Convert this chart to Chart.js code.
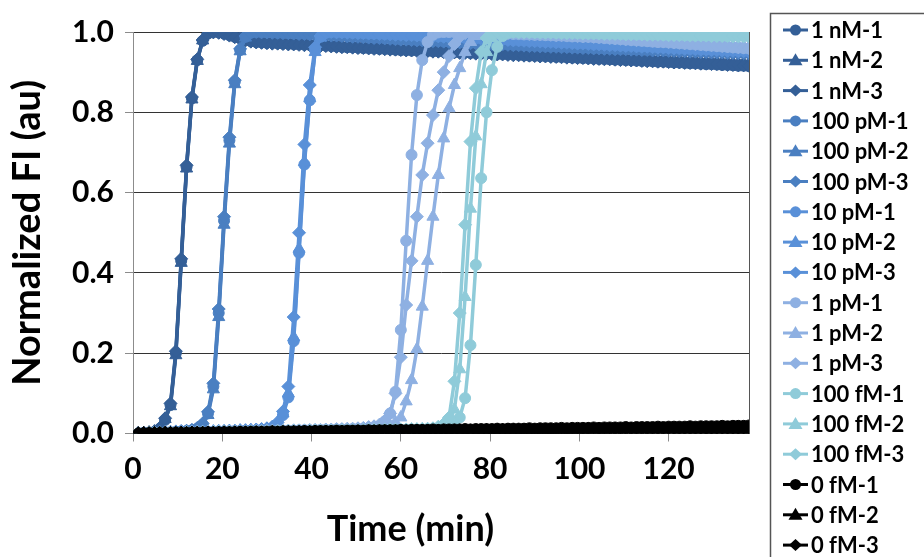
<!DOCTYPE html>
<html>
<head>
<meta charset="utf-8">
<script src="https://cdn.jsdelivr.net/npm/chart.js@4.4.1/dist/chart.umd.min.js"></script>
<style>
  html, body { margin: 0; padding: 0; background: #fff; }
  #wrap { width: 924px; height: 557px; position: relative; }
</style>
</head>
<body>
<div id="wrap"><canvas id="chart"></canvas></div>
<script>
// sampling times (min)
const times = [1.2, 2.4, 3.6, 4.8, 6, 7.2, 8.4, 9.6, 10.8, 12,
  13.2, 14.4, 15.6, 16.8, 18, 19.2, 20.4, 21.6, 22.8, 24,
  25.2, 26.4, 27.6, 28.8, 30, 31.2, 32.4, 33.6, 34.8, 36,
  37.2, 38.4, 39.6, 40.8, 42, 43.2, 44.4, 45.6, 46.8, 48,
  49.2, 50.4, 51.6, 52.8, 54, 55.2, 56.4, 57.6, 58.8, 60,
  61.2, 62.4, 63.6, 64.8, 66, 67.2, 68.4, 69.6, 70.8, 72,
  73.2, 74.4, 75.6, 76.8, 78, 79.2, 80.4, 81.6, 82.8, 84,
  85.2, 86.4, 87.6, 88.8, 90, 91.2, 92.4, 93.6, 94.8, 96,
  97.2, 98.4, 99.6, 100.8, 102, 103.2, 104.4, 105.6, 106.8, 108,
  109.2, 110.4, 111.6, 112.8, 114, 115.2, 116.4, 117.6, 118.8, 120,
  121.2, 122.4, 123.6, 124.8, 126, 127.2, 128.4, 129.6, 130.8, 132,
  133.2, 134.4, 135.6, 136.8, 138];

// 1 nM
const nM1_r1 = [0, 0.001, 0.002, 0.004, 0.012,
  0.034, 0.071, 0.2, 0.43, 0.664, 0.835, 0.93, 0.978, 0.996, 1, 0.999, 0.996, 0.992, 0.988, 0.984, 0.98, 0.977, 0.975,
  0.974, 0.973, 0.973, 0.972, 0.971, 0.971, 0.97, 0.969, 0.969, 0.968, 0.967, 0.967, 0.966, 0.965, 0.964, 0.963,
  0.962, 0.962, 0.961, 0.96, 0.96, 0.959, 0.958, 0.958, 0.957, 0.956, 0.955,
  0.955, 0.954, 0.954, 0.953, 0.953, 0.952, 0.952, 0.951, 0.95, 0.95, 0.949, 0.949, 0.948, 0.948, 0.947, 0.947, 0.946, 0.945, 0.945, 0.944, 0.944, 0.943, 0.942,
  0.941, 0.941, 0.94, 0.94, 0.939, 0.938, 0.938, 0.937, 0.936, 0.936, 0.935, 0.935, 0.934, 0.933, 0.933, 0.932, 0.931, 0.931, 0.93, 0.93, 0.929, 0.928, 0.928, 0.927, 0.926, 0.926, 0.925,
  0.924, 0.924, 0.923, 0.922, 0.922, 0.921, 0.92, 0.92, 0.919, 0.918, 0.918, 0.917, 0.916, 0.916, 0.915];
const nM1_r2 = [0, 0, 0.002, 0.005, 0.013,
  0.036, 0.068, 0.195, 0.425, 0.66, 0.832, 0.928, 0.979, 0.997, 1, 1, 0.998, 0.994, 0.99, 0.986, 0.983, 0.98, 0.978,
  0.977, 0.976, 0.976, 0.975, 0.974, 0.974, 0.973, 0.972, 0.972, 0.971, 0.97, 0.97, 0.969, 0.968, 0.968, 0.967,
  0.966, 0.966, 0.965, 0.965, 0.964, 0.963, 0.963, 0.962, 0.962, 0.961, 0.96,
  0.96, 0.959, 0.959, 0.958, 0.957, 0.957, 0.956, 0.956, 0.955, 0.955, 0.954, 0.953, 0.953, 0.952, 0.952, 0.951, 0.951, 0.95, 0.949, 0.949, 0.948, 0.948, 0.947,
  0.947, 0.946, 0.945, 0.945, 0.944, 0.944, 0.943, 0.942, 0.942, 0.941, 0.941, 0.94, 0.939, 0.939, 0.938, 0.938, 0.937, 0.936, 0.936, 0.935, 0.935, 0.934, 0.933, 0.933, 0.932, 0.932, 0.931,
  0.93, 0.93, 0.929, 0.929, 0.928, 0.927, 0.927, 0.926, 0.926, 0.925, 0.924, 0.924, 0.923, 0.923, 0.922];
const nM1_r3 = [0.001, 0.001, 0.003, 0.005, 0.014,
  0.038, 0.075, 0.205, 0.435, 0.668, 0.838, 0.932, 0.98, 0.996, 0.999, 0.998, 0.995, 0.991, 0.987, 0.983, 0.979, 0.976, 0.974,
  0.973, 0.972, 0.971, 0.971, 0.97, 0.969, 0.969, 0.968, 0.967, 0.967, 0.966, 0.965, 0.965, 0.964, 0.963, 0.962,
  0.962, 0.961, 0.96, 0.96, 0.959, 0.958, 0.958, 0.957, 0.956, 0.956, 0.955,
  0.954, 0.954, 0.953, 0.952, 0.952, 0.951, 0.951, 0.95, 0.949, 0.949, 0.948, 0.948, 0.947, 0.946, 0.946, 0.945, 0.945, 0.944, 0.944, 0.943, 0.942, 0.942, 0.941,
  0.941, 0.94, 0.939, 0.939, 0.938, 0.938, 0.937, 0.936, 0.936, 0.935, 0.935, 0.934, 0.933, 0.933, 0.932, 0.932, 0.931, 0.93, 0.93, 0.929, 0.929, 0.928, 0.927, 0.927, 0.926, 0.926, 0.925,
  0.924, 0.924, 0.923, 0.923, 0.922, 0.921, 0.921, 0.92, 0.92, 0.919, 0.918, 0.918, 0.917, 0.917, 0.916];

// 100 pM
const pM100_r1 = [0, 0.001, 0.001, 0.002, 0.002, 0.003, 0.003, 0.004, 0.005, 0.006,
  0.008, 0.012, 0.022, 0.05, 0.117, 0.3, 0.53, 0.73, 0.876, 0.955, 0.988, 0.998, 1, 1, 0.999, 0.999, 0.998, 0.998, 0.997, 0.997,
  0.996, 0.996, 0.995, 0.994, 0.994, 0.993, 0.992, 0.992, 0.991, 0.99, 0.989, 0.989, 0.988, 0.987, 0.986, 0.986, 0.985, 0.984, 0.983, 0.982,
  0.982, 0.981, 0.98, 0.98, 0.979, 0.978, 0.978, 0.977, 0.976, 0.976, 0.975, 0.974, 0.973, 0.973, 0.972, 0.971, 0.971, 0.97, 0.97, 0.969, 0.968, 0.968, 0.967, 0.966, 0.966,
  0.965, 0.965, 0.964, 0.964, 0.963, 0.963, 0.962, 0.962, 0.961, 0.961, 0.96, 0.96, 0.959, 0.959, 0.958, 0.958, 0.958, 0.957, 0.957, 0.956, 0.956, 0.956, 0.955, 0.955, 0.955,
  0.954, 0.954, 0.953, 0.953, 0.952, 0.952, 0.951, 0.951, 0.95, 0.95, 0.95, 0.949, 0.949, 0.948, 0.948];
const pM100_r2 = [0, 0, 0.001, 0.001, 0.002, 0.002, 0.003, 0.004, 0.004, 0.005,
  0.007, 0.011, 0.02, 0.046, 0.11, 0.29, 0.52, 0.722, 0.87, 0.952, 0.986, 0.997, 1, 1, 1, 0.999, 0.999, 0.998, 0.998, 0.997,
  0.997, 0.996, 0.996, 0.995, 0.994, 0.994, 0.993, 0.993, 0.992, 0.991, 0.991, 0.99, 0.989, 0.989, 0.988, 0.987, 0.987, 0.986, 0.985, 0.985,
  0.984, 0.983, 0.983, 0.982, 0.981, 0.981, 0.98, 0.979, 0.979, 0.978, 0.977, 0.977, 0.976, 0.975, 0.975, 0.974, 0.974, 0.973, 0.972, 0.972, 0.971, 0.971, 0.97, 0.969, 0.969,
  0.968, 0.968, 0.967, 0.967, 0.966, 0.966, 0.965, 0.965, 0.964, 0.964, 0.963, 0.963, 0.962, 0.962, 0.961, 0.961, 0.961, 0.96, 0.96, 0.959, 0.959, 0.958, 0.958, 0.958, 0.957,
  0.957, 0.956, 0.956, 0.955, 0.955, 0.955, 0.954, 0.954, 0.953, 0.953, 0.952, 0.952, 0.952, 0.951, 0.951];
const pM100_r3 = [0.001, 0.001, 0.002, 0.002, 0.003, 0.003, 0.004, 0.005, 0.006, 0.007,
  0.009, 0.014, 0.025, 0.054, 0.125, 0.31, 0.54, 0.738, 0.88, 0.958, 0.99, 0.999, 1, 0.999, 0.999, 0.998, 0.998, 0.997, 0.997, 0.996,
  0.995, 0.995, 0.994, 0.993, 0.993, 0.992, 0.991, 0.991, 0.99, 0.989, 0.988, 0.988, 0.987, 0.986, 0.985, 0.985, 0.984, 0.983, 0.982, 0.981,
  0.981, 0.98, 0.979, 0.979, 0.978, 0.977, 0.977, 0.976, 0.975, 0.975, 0.974, 0.973, 0.972, 0.972, 0.971, 0.97, 0.97, 0.969, 0.969, 0.968, 0.967, 0.967, 0.966, 0.965, 0.965,
  0.964, 0.964, 0.963, 0.963, 0.962, 0.962, 0.961, 0.961, 0.96, 0.96, 0.959, 0.959, 0.958, 0.958, 0.957, 0.957, 0.957, 0.956, 0.956, 0.955, 0.955, 0.954, 0.954, 0.954, 0.953,
  0.953, 0.952, 0.952, 0.951, 0.951, 0.95, 0.95, 0.949, 0.949, 0.949, 0.948, 0.948, 0.947, 0.947, 0.946];

// 10 pM
const pM10_r1 = [0, 0, 0.001, 0.001, 0.001, 0.002, 0.002, 0.002, 0.003, 0.003, 0.003, 0.003, 0.004, 0.004, 0.004, 0.005, 0.005, 0.005, 0.006, 0.006, 0.007, 0.007, 0.008, 0.009, 0.01,
  0.013, 0.022, 0.046, 0.09, 0.23, 0.45, 0.67, 0.83, 0.955, 0.988, 0.998, 1, 1, 0.999, 0.999,
  0.998, 0.998, 0.997, 0.997, 0.996, 0.996, 0.995, 0.995, 0.994, 0.994, 0.993, 0.993, 0.992, 0.991, 0.991, 0.99, 0.99, 0.989, 0.988, 0.988,
  0.987, 0.986, 0.986, 0.985, 0.984, 0.984, 0.983, 0.982, 0.982, 0.981, 0.98, 0.98, 0.979, 0.978, 0.978, 0.977, 0.976, 0.976, 0.975, 0.974, 0.974, 0.973, 0.972, 0.972, 0.971,
  0.97, 0.97, 0.969, 0.968, 0.968, 0.967, 0.966, 0.966, 0.965, 0.964, 0.964, 0.963, 0.962, 0.962, 0.961, 0.96, 0.96, 0.959, 0.958, 0.958, 0.957, 0.957, 0.956, 0.956, 0.955, 0.955, 0.954, 0.953, 0.953, 0.952];
const pM10_r2 = [0, 0.001, 0.001, 0.001, 0.002, 0.002, 0.002, 0.003, 0.003, 0.003, 0.004, 0.004, 0.004, 0.004, 0.005, 0.005, 0.005, 0.006, 0.006, 0.007, 0.007, 0.008, 0.008, 0.009, 0.011,
  0.014, 0.024, 0.05, 0.1, 0.24, 0.46, 0.676, 0.835, 0.95, 0.986, 0.997, 1, 1, 1, 0.999,
  0.999, 0.998, 0.998, 0.997, 0.997, 0.996, 0.996, 0.995, 0.995, 0.994, 0.994, 0.993, 0.993, 0.992, 0.992, 0.991, 0.99, 0.99, 0.989, 0.989,
  0.988, 0.988, 0.987, 0.986, 0.986, 0.985, 0.985, 0.984, 0.983, 0.983, 0.982, 0.982, 0.981, 0.98, 0.98, 0.979, 0.978, 0.978, 0.977, 0.977, 0.976, 0.975, 0.975, 0.974, 0.973,
  0.973, 0.972, 0.971, 0.971, 0.97, 0.97, 0.969, 0.968, 0.968, 0.967, 0.966, 0.966, 0.965, 0.965, 0.964, 0.963, 0.963, 0.962, 0.962, 0.961, 0.96, 0.96, 0.959, 0.959, 0.958, 0.957, 0.957, 0.956, 0.956, 0.955];
const pM10_r3 = [0.001, 0.001, 0.001, 0.002, 0.002, 0.002, 0.003, 0.003, 0.003, 0.004, 0.004, 0.004, 0.005, 0.005, 0.005, 0.006, 0.006, 0.007, 0.007, 0.008, 0.008, 0.009, 0.01, 0.011, 0.013,
  0.017, 0.028, 0.055, 0.117, 0.29, 0.5, 0.72, 0.868, 0.962, 0.99, 0.999, 1, 0.999, 0.999, 0.998,
  0.998, 0.997, 0.997, 0.996, 0.996, 0.995, 0.995, 0.994, 0.993, 0.993, 0.992, 0.992, 0.991, 0.99, 0.99, 0.989, 0.989, 0.988, 0.987, 0.987,
  0.986, 0.985, 0.985, 0.984, 0.983, 0.983, 0.982, 0.981, 0.981, 0.98, 0.979, 0.979, 0.978, 0.977, 0.977, 0.976, 0.975, 0.975, 0.974, 0.973, 0.973, 0.972, 0.971, 0.971, 0.97,
  0.969, 0.969, 0.968, 0.967, 0.967, 0.966, 0.965, 0.965, 0.964, 0.963, 0.963, 0.962, 0.961, 0.961, 0.96, 0.959, 0.959, 0.958, 0.958, 0.957, 0.956, 0.956, 0.955, 0.955, 0.954, 0.953, 0.953, 0.952, 0.952, 0.951];

// 1 pM
const pM1_r1 = [0, 0, 0.001, 0.001, 0.001, 0.001, 0.002, 0.002, 0.002, 0.002, 0.003, 0.003, 0.003, 0.003, 0.004, 0.004, 0.004, 0.004, 0.005, 0.005, 0.005, 0.005, 0.006, 0.006, 0.006, 0.006, 0.007, 0.007, 0.007, 0.007, 0.008, 0.008, 0.008, 0.008, 0.009, 0.009, 0.009, 0.01, 0.01, 0.01, 0.011, 0.011, 0.012, 0.013, 0.014,
  0.018, 0.03, 0.05, 0.104, 0.258, 0.48, 0.694, 0.843, 0.93, 0.975, 0.993, 0.999, 1, 1, 1,
  0.999, 0.999, 0.999, 0.998, 0.998, 0.998, 0.997, 0.997, 0.996, 0.996, 0.995, 0.995, 0.994, 0.994, 0.993, 0.993, 0.992, 0.992, 0.991, 0.991, 0.99, 0.989, 0.989, 0.988, 0.988,
  0.987, 0.986, 0.985, 0.984, 0.983, 0.982, 0.981, 0.98, 0.979, 0.978, 0.977, 0.976, 0.975, 0.975, 0.974, 0.973, 0.972, 0.971, 0.97, 0.969, 0.968, 0.967, 0.966, 0.965, 0.964, 0.963, 0.962, 0.961, 0.96, 0.959];
const pM1_r2 = [0, 0, 0, 0.001, 0.001, 0.001, 0.001, 0.001, 0.002, 0.002, 0.002, 0.002, 0.002, 0.003, 0.003, 0.003, 0.003, 0.003, 0.004, 0.004, 0.004, 0.004, 0.004, 0.005, 0.005, 0.005, 0.005, 0.005, 0.006, 0.006, 0.006, 0.006, 0.006, 0.007, 0.007, 0.007, 0.007, 0.008, 0.008, 0.008, 0.008, 0.009, 0.009, 0.009, 0.01, 0.01, 0.011,
  0.02, 0.028, 0.04, 0.08, 0.133, 0.21, 0.316, 0.43, 0.54, 0.644, 0.735, 0.81, 0.868, 0.91, 0.95, 0.975, 0.99, 0.997, 1, 1, 1, 0.999, 0.999,
  0.999, 0.998, 0.998, 0.997, 0.997, 0.996, 0.996, 0.995, 0.995, 0.994, 0.993, 0.993, 0.992, 0.991, 0.991,
  0.99, 0.989, 0.988, 0.987, 0.986, 0.985, 0.984, 0.983, 0.983, 0.982, 0.981, 0.98, 0.979, 0.978, 0.977, 0.976, 0.975, 0.974, 0.973, 0.972, 0.971, 0.97, 0.969, 0.968, 0.967, 0.966, 0.965, 0.964, 0.963, 0.962];
const pM1_r3 = [0, 0.001, 0.001, 0.001, 0.001, 0.002, 0.002, 0.002, 0.002, 0.003, 0.003, 0.003, 0.003, 0.004, 0.004, 0.004, 0.004, 0.005, 0.005, 0.005, 0.005, 0.006, 0.006, 0.006, 0.006, 0.007, 0.007, 0.007, 0.007, 0.008, 0.008, 0.008, 0.009, 0.009, 0.009, 0.01, 0.01, 0.011, 0.011, 0.012, 0.012, 0.013, 0.014, 0.016, 0.018,
  0.022, 0.032, 0.05, 0.1, 0.19, 0.32, 0.43, 0.54, 0.644, 0.723, 0.793, 0.855, 0.9, 0.94, 0.97, 0.988, 0.997, 1, 1, 0.999,
  0.999, 0.999, 0.998, 0.998, 0.997, 0.997, 0.996, 0.996, 0.995, 0.995, 0.994, 0.994, 0.993, 0.992, 0.992, 0.991, 0.991, 0.99, 0.989, 0.989,
  0.988, 0.987, 0.986, 0.985, 0.984, 0.983, 0.982, 0.981, 0.98, 0.98, 0.979, 0.978, 0.977, 0.976, 0.975, 0.974, 0.973, 0.972, 0.971, 0.97, 0.969, 0.968, 0.967, 0.966, 0.965, 0.964, 0.963, 0.962, 0.961, 0.96];

// 100 fM
const fM100_r1 = [0, 0, 0, 0.001, 0.001, 0.001, 0.001, 0.001, 0.001, 0.002, 0.002, 0.002, 0.002, 0.002, 0.002, 0.003, 0.003, 0.003, 0.003, 0.003, 0.003, 0.004, 0.004, 0.004, 0.004, 0.004, 0.004, 0.005, 0.005, 0.005, 0.005, 0.005, 0.005, 0.006, 0.006, 0.006, 0.006, 0.006, 0.007, 0.007, 0.007, 0.007, 0.007, 0.008, 0.008, 0.008, 0.008, 0.009, 0.009, 0.009, 0.009, 0.01, 0.01, 0.01, 0.011, 0.011, 0.012, 0.012,
  0.015, 0.022, 0.04, 0.088, 0.22, 0.42, 0.636, 0.8, 0.905, 0.963, 0.99, 0.998, 1, 1, 1, 1, 0.999,
  0.999, 0.999, 0.999, 0.998, 0.998, 0.998, 0.998, 0.997, 0.997, 0.997, 0.997, 0.996, 0.996, 0.996, 0.996, 0.995, 0.995, 0.995, 0.995, 0.994, 0.994, 0.994, 0.994, 0.993, 0.993, 0.993, 0.993, 0.992, 0.992, 0.992, 0.992, 0.991, 0.991, 0.991, 0.991, 0.99, 0.99, 0.99, 0.99, 0.989];
const fM100_r2 = [0, 0, 0, 0.001, 0.001, 0.001, 0.001, 0.001, 0.001, 0.002, 0.002, 0.002, 0.002, 0.002, 0.002, 0.003, 0.003, 0.003, 0.003, 0.003, 0.003, 0.004, 0.004, 0.004, 0.004, 0.004, 0.004, 0.005, 0.005, 0.005, 0.005, 0.005, 0.005, 0.006, 0.006, 0.006, 0.006, 0.006, 0.007, 0.007, 0.007, 0.007, 0.007, 0.008, 0.008, 0.008, 0.008, 0.009, 0.009, 0.009, 0.009, 0.01, 0.01, 0.01, 0.011, 0.011, 0.013,
  0.018, 0.03, 0.06, 0.16, 0.34, 0.56, 0.74, 0.87, 0.95, 0.985, 0.998, 1, 1, 1, 1, 0.999, 0.999, 0.999,
  0.999, 0.998, 0.998, 0.998, 0.998, 0.997, 0.997, 0.997, 0.997, 0.996, 0.996, 0.996, 0.996, 0.995, 0.995, 0.995, 0.995, 0.994, 0.994, 0.994, 0.994, 0.993, 0.993, 0.993, 0.993, 0.992, 0.992, 0.992, 0.992, 0.991, 0.991, 0.991, 0.991, 0.99, 0.99, 0.99, 0.99, 0.989, 0.989, 0.989];
const fM100_r3 = [0, 0, 0.001, 0.001, 0.001, 0.001, 0.001, 0.001, 0.002, 0.002, 0.002, 0.002, 0.002, 0.002, 0.003, 0.003, 0.003, 0.003, 0.003, 0.003, 0.004, 0.004, 0.004, 0.004, 0.004, 0.004, 0.005, 0.005, 0.005, 0.005, 0.005, 0.005, 0.006, 0.006, 0.006, 0.006, 0.006, 0.007, 0.007, 0.007, 0.007, 0.007, 0.008, 0.008, 0.008, 0.008, 0.009, 0.009, 0.009, 0.009, 0.01, 0.01, 0.01, 0.011, 0.011, 0.013,
  0.017, 0.024, 0.04, 0.13, 0.3, 0.52, 0.727, 0.86, 0.95, 0.985, 0.998, 1, 1, 1, 1, 0.999, 0.999, 0.999, 0.999,
  0.998, 0.998, 0.998, 0.998, 0.997, 0.997, 0.997, 0.997, 0.996, 0.996, 0.996, 0.996, 0.995, 0.995, 0.995, 0.995, 0.994, 0.994, 0.994, 0.994, 0.993, 0.993, 0.993, 0.993, 0.992, 0.992, 0.992, 0.992, 0.991, 0.991, 0.991, 0.991, 0.99, 0.99, 0.99, 0.99, 0.989, 0.989, 0.989, 0.989];

// 0 fM (no target)
const fM0_r1 = [0, 0, 0.001, 0, 0.001, 0.001, 0.001, 0.002, 0.001, 0.002, 0.002, 0.002, 0.002, 0.003, 0.002, 0.003, 0.003, 0.003, 0.003, 0.004,
  0.003, 0.004, 0.004, 0.004, 0.004, 0.005, 0.004, 0.005, 0.005, 0.005, 0.005, 0.006, 0.005, 0.006, 0.006, 0.006, 0.006, 0.007, 0.006, 0.007,
  0.007, 0.007, 0.007, 0.008, 0.007, 0.008, 0.008, 0.008, 0.008, 0.009, 0.008, 0.009, 0.009, 0.009, 0.009, 0.01, 0.009, 0.01, 0.01, 0.01,
  0.01, 0.011, 0.01, 0.011, 0.011, 0.011, 0.011, 0.012, 0.011, 0.012, 0.012, 0.012, 0.012, 0.013, 0.012, 0.013, 0.013, 0.013, 0.013, 0.014,
  0.013, 0.014, 0.014, 0.014, 0.014, 0.015, 0.014, 0.015, 0.015, 0.015, 0.015, 0.016, 0.015, 0.016, 0.016, 0.016, 0.016, 0.017, 0.016, 0.017,
  0.017, 0.017, 0.017, 0.018, 0.017, 0.018, 0.018, 0.018, 0.018, 0.019, 0.018, 0.019, 0.019, 0.019, 0.02];
const fM0_r2 = [0, 0, 0, 0, 0, 0.001, 0, 0, 0.001, 0, 0.001, 0.001, 0, 0.001, 0.001, 0.001, 0.001, 0.001, 0.001, 0.001,
  0.001, 0.001, 0.002, 0.001, 0.001, 0.002, 0.001, 0.002, 0.002, 0.002, 0.002, 0.001, 0.002, 0.002, 0.002, 0.002, 0.002, 0.003, 0.002, 0.002,
  0.002, 0.003, 0.002, 0.003, 0.003, 0.002, 0.003, 0.003, 0.003, 0.003, 0.003, 0.003, 0.003, 0.004, 0.003, 0.003, 0.003, 0.004, 0.003, 0.004,
  0.004, 0.003, 0.004, 0.004, 0.004, 0.004, 0.004, 0.004, 0.004, 0.005, 0.004, 0.004, 0.004, 0.005, 0.004, 0.005, 0.005, 0.004, 0.005, 0.005,
  0.005, 0.005, 0.005, 0.005, 0.005, 0.006, 0.005, 0.005, 0.005, 0.006, 0.005, 0.006, 0.006, 0.005, 0.006, 0.006, 0.006, 0.006, 0.006, 0.006,
  0.006, 0.007, 0.006, 0.006, 0.007, 0.006, 0.007, 0.007, 0.007, 0.006, 0.007, 0.007, 0.007, 0.007, 0.008];
const fM0_r3 = [0, 0.001, 0, 0.001, 0.001, 0.001, 0.001, 0.001, 0.002, 0.001, 0.002, 0.002, 0.002, 0.002, 0.002, 0.002, 0.003, 0.002, 0.003, 0.003,
  0.003, 0.003, 0.003, 0.003, 0.003, 0.004, 0.003, 0.004, 0.004, 0.004, 0.004, 0.004, 0.004, 0.005, 0.004, 0.005, 0.005, 0.005, 0.005, 0.005,
  0.005, 0.006, 0.005, 0.006, 0.006, 0.006, 0.006, 0.006, 0.006, 0.007, 0.006, 0.007, 0.007, 0.007, 0.007, 0.007, 0.007, 0.008, 0.007, 0.008,
  0.008, 0.008, 0.008, 0.008, 0.008, 0.009, 0.008, 0.009, 0.009, 0.009, 0.009, 0.009, 0.009, 0.01, 0.009, 0.01, 0.01, 0.01, 0.01, 0.01,
  0.01, 0.011, 0.01, 0.011, 0.011, 0.011, 0.011, 0.011, 0.011, 0.012, 0.011, 0.012, 0.012, 0.012, 0.012, 0.012, 0.012, 0.013, 0.012, 0.013,
  0.013, 0.013, 0.013, 0.013, 0.013, 0.014, 0.013, 0.014, 0.014, 0.014, 0.014, 0.014, 0.014, 0.015, 0.015];

const seriesNames = ['1 nM-1', '1 nM-2', '1 nM-3', '100 pM-1', '100 pM-2', '100 pM-3',
  '10 pM-1', '10 pM-2', '10 pM-3', '1 pM-1', '1 pM-2', '1 pM-3',
  '100 fM-1', '100 fM-2', '100 fM-3', '0 fM-1', '0 fM-2', '0 fM-3'];
const seriesValues = [nM1_r1, nM1_r2, nM1_r3, pM100_r1, pM100_r2, pM100_r3,
  pM10_r1, pM10_r2, pM10_r3, pM1_r1, pM1_r2, pM1_r3,
  fM100_r1, fM100_r2, fM100_r3, fM0_r1, fM0_r2, fM0_r3];
const xTicks = [0, 20, 40, 60, 80, 100, 120];
const yTicks = [0, 0.2, 0.4, 0.6, 0.8, 1.0];

const groupColors = ['#345f97', '#4a7fc1', '#5990d8', '#8eb0e2', '#8fcbd9', '#000000'];
const markers = ['circle', 'triangle', 'rectRot'];
const markerRadius = { circle: 5.5, triangle: 7, rectRot: 6.5 };

seriesValues.forEach((v, i) => {
  if (v.length !== times.length) console.error(seriesNames[i] + ' has ' + v.length + ' values');
});

const datasets = seriesValues.map((vals, i) => {
  const color = groupColors[Math.floor(i / 3)];
  const shape = markers[i % 3];
  return {
    label: seriesNames[i],
    data: times.map((t, j) => ({ x: t, y: vals[j] })),
    borderColor: color,
    backgroundColor: color,
    borderWidth: 3.5,
    pointStyle: shape,
    pointRadius: markerRadius[shape],
    pointBorderWidth: 1,
    pointBackgroundColor: color,
    pointBorderColor: color,
    tension: 0,
    order: -i  // later series on top, like the original
  };
});

function legendMarker(ctx, shape, x, y) {
  ctx.beginPath();
  if (shape === 'circle') {
    ctx.arc(x, y, 5.5, 0, Math.PI * 2);
  } else if (shape === 'triangle') {
    ctx.moveTo(x, y - 7);
    ctx.lineTo(x + 7, y + 5);
    ctx.lineTo(x - 7, y + 5);
    ctx.closePath();
  } else {
    ctx.moveTo(x, y - 6);
    ctx.lineTo(x + 6.5, y);
    ctx.lineTo(x, y + 6);
    ctx.lineTo(x - 6.5, y);
    ctx.closePath();
  }
  ctx.fill();
}

// boxed legend at the right, cut by the picture edge
const boxLegend = {
  id: 'boxLegend',
  afterDraw(chart) {
    const ctx = chart.ctx;
    ctx.save();
    ctx.strokeStyle = '#555';
    ctx.lineWidth = 1.5;
    ctx.strokeRect(770.5, 13.5, 180, 580);
    ctx.font = 'bold 22px Lato';
    ctx.textBaseline = 'middle';
    ctx.textAlign = 'left';
    chart.data.datasets.forEach((ds, i) => {
      const y = 30 + i * 30.3;
      ctx.strokeStyle = ds.borderColor;
      ctx.fillStyle = ds.borderColor;
      ctx.lineWidth = 3;
      ctx.beginPath();
      ctx.moveTo(783, y);
      ctx.lineTo(808, y);
      ctx.stroke();
      legendMarker(ctx, ds.pointStyle, 795.5, y);
      ctx.fillStyle = '#000';
      ctx.fillText(ds.label, 811, y + 1);
    });
    ctx.restore();
  }
};

const boldFont = (size) => ({ family: 'Lato', weight: 'bold', size: size });

new Chart(document.getElementById('chart'), {
  type: 'line',
  data: { datasets },
  plugins: [boxLegend],
  options: {
    responsive: true,
    maintainAspectRatio: false,
    animation: false,
    devicePixelRatio: 1,
    layout: { padding: { top: 32, right: 175, bottom: 0, left: 0 } },
    plugins: {
      legend: { display: false },
      tooltip: { enabled: false }
    },
    scales: {
      x: {
        type: 'linear',
        min: 0,
        max: 138,
        afterBuildTicks: (s) => { s.ticks = xTicks.map(v => ({ value: v })); },
        afterFit: (s) => { s.height = 123.5; },
        grid: { drawOnChartArea: false, drawTicks: true, tickLength: 8, color: '#8c8c8c', tickColor: '#8c8c8c' },
        border: { display: true, color: '#8c8c8c', width: 1 },
        ticks: { color: '#000', font: boldFont(30), padding: 10, maxRotation: 0, autoSkip: false, callback: (v) => String(v) },
        // trailing spaces keep the title a little left of the plot centre, as in the original
        title: { display: true, text: 'Time (min)       ', color: '#000', font: boldFont(36), padding: { top: 0, bottom: 6 } }
      },
      y: {
        type: 'linear',
        min: 0,
        max: 1,
        afterBuildTicks: (s) => { s.ticks = yTicks.map(v => ({ value: v })); },
        afterFit: (s) => { s.width = 133; },
        grid: { color: '#333', lineWidth: 1, drawTicks: true, tickLength: 8, tickColor: '#8c8c8c' },
        border: { display: true, color: '#8c8c8c', width: 1 },
        ticks: { color: '#000', font: boldFont(30), padding: 11, callback: (v) => Number(v).toFixed(1) },
        title: { display: true, text: 'Normalized FI (au)', color: '#000', font: boldFont(38), padding: { top: 5, bottom: 0 } }
      },
      yRight: {
        type: 'linear',
        position: 'right',
        min: 0,
        max: 1,
        ticks: { display: false },
        grid: { display: false, drawTicks: false },
        border: { display: true, color: '#555', width: 1 },
        afterFit: (s) => { s.width = 0; }
      }
    }
  }
});
</script>
